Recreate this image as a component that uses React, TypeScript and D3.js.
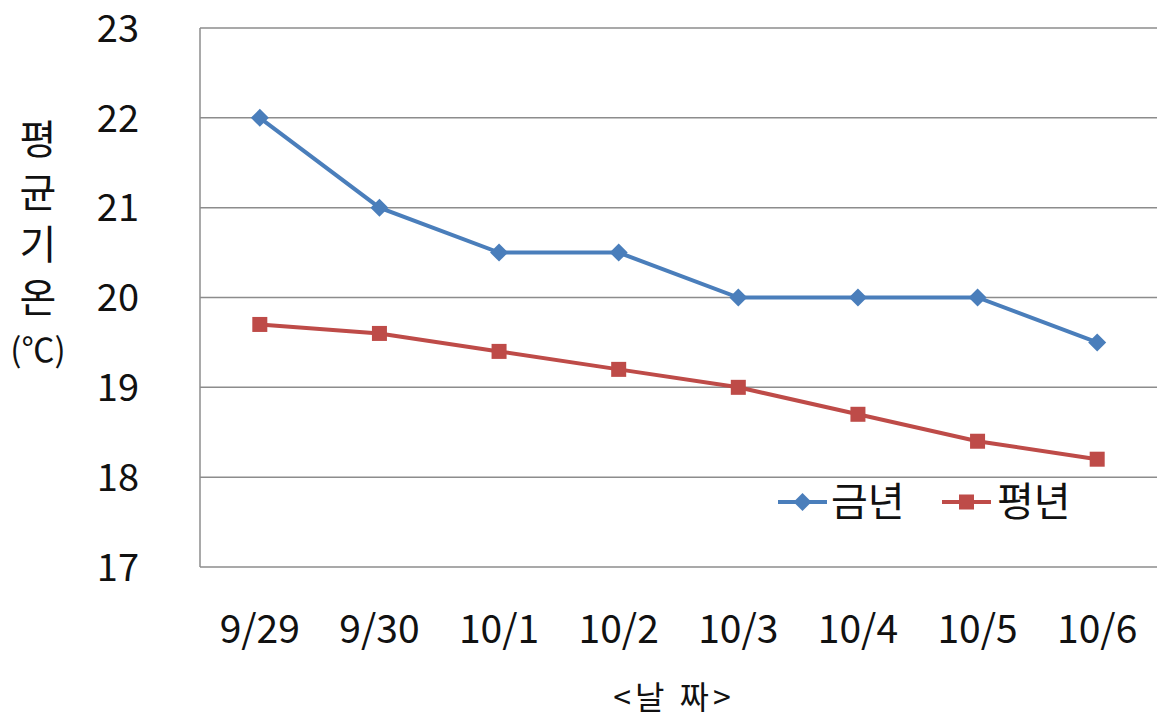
import * as d3 from "d3";

const dates = ["9/29", "9/30", "10/1", "10/2", "10/3", "10/4", "10/5", "10/6"];
const thisYear = [22, 21, 20.5, 20.5, 20, 20, 20, 19.5];
const normalYear = [19.7, 19.6, 19.4, 19.2, 19.0, 18.7, 18.4, 18.2];
const yTicks = [17, 18, 19, 20, 21, 22, 23];
const seriesNames = ["금년", "평년"];
const yTitleChars = ["평", "균", "기", "온", "(℃)"];

const W = 1161;
const H = 718;
const margin = { top: 28, right: 4, bottom: 151, left: 200 };
const FONT = "'Noto Sans CJK KR', 'Noto Sans', sans-serif";
const BLUE = "#4a7ebb";
const RED = "#be4b48";

const App = () => {
  const x = d3
    .scaleBand<string>()
    .domain(dates)
    .range([margin.left, W - margin.right]);
  const y = d3
    .scaleLinear()
    .domain([17, 23])
    .range([H - margin.bottom, margin.top]);
  const cx = (d: string) => (x(d) ?? 0) + x.bandwidth() / 2;

  const line = d3
    .line<number>()
    .x((_, i) => cx(dates[i]))
    .y((v) => y(v));

  const diamond = (px: number, py: number, r: number) =>
    `M${px},${py - r}L${px + r},${py}L${px},${py + r}L${px - r},${py}Z`;

  return (
    <svg
      width={W}
      height={H}
      style={{ position: "absolute", left: 0, top: 0, background: "#fff" }}
      fontFamily={FONT}
    >
      {/* grid lines */}
      {yTicks.map((t) => (
        <line
          key={t}
          x1={margin.left}
          x2={W - margin.right}
          y1={y(t)}
          y2={y(t)}
          stroke="#8c8c8c"
          strokeWidth={1.5}
        />
      ))}
      <line
        x1={margin.left}
        x2={margin.left}
        y1={y(23)}
        y2={y(17)}
        stroke="#8c8c8c"
        strokeWidth={1.5}
      />

      {/* y tick labels */}
      {yTicks.map((t) => (
        <text
          key={t}
          x={139}
          y={y(t)}
          dy="0.36em"
          textAnchor="end"
          fontSize={38}
          fill="#111"
        >
          {t}
        </text>
      ))}

      {/* x tick labels */}
      {dates.map((d) => (
        <text
          key={d}
          x={cx(d)}
          y={629}
          dy="0.36em"
          textAnchor="middle"
          fontSize={39}
          fill="#111"
        >
          {d}
        </text>
      ))}

      {/* y title, stacked */}
      {yTitleChars.map((c, i) => (
        <text
          key={c}
          x={38}
          y={140 + i * 52.5}
          dy="0.36em"
          textAnchor="middle"
          fontSize={i === 4 ? 33 : 40}
          fill="#111"
        >
          {c}
        </text>
      ))}

      {/* x title */}
      <text
        x={674}
        y={697}
        dy="0.36em"
        textAnchor="middle"
        fontSize={32}
        letterSpacing={4}
        fill="#111"
      >
        {"<날 짜>"}
      </text>

      {/* series */}
      <path d={line(thisYear) ?? ""} fill="none" stroke={BLUE} strokeWidth={4} />
      {thisYear.map((v, i) => (
        <path key={i} d={diamond(cx(dates[i]), y(v), 9)} fill={BLUE} />
      ))}
      <path d={line(normalYear) ?? ""} fill="none" stroke={RED} strokeWidth={4} />
      {normalYear.map((v, i) => (
        <rect
          key={i}
          x={cx(dates[i]) - 7.5}
          y={y(v) - 7.5}
          width={15}
          height={15}
          fill={RED}
        />
      ))}

      {/* legend */}
      <g transform="translate(778,502)">
        <line x1={0} x2={49} y1={0} y2={0} stroke={BLUE} strokeWidth={4} />
        <path d={diamond(24.5, 0, 9)} fill={BLUE} />
        <text x={53} y={0} dy="0.36em" fontSize={40} fill="#111">
          {seriesNames[0]}
        </text>
      </g>
      <g transform="translate(942,502)">
        <line x1={0} x2={49} y1={0} y2={0} stroke={RED} strokeWidth={4} />
        <rect x={17} y={-7.5} width={15} height={15} fill={RED} />
        <text x={55} y={0} dy="0.36em" fontSize={40} fill="#111">
          {seriesNames[1]}
        </text>
      </g>
    </svg>
  );
};

export default App;
